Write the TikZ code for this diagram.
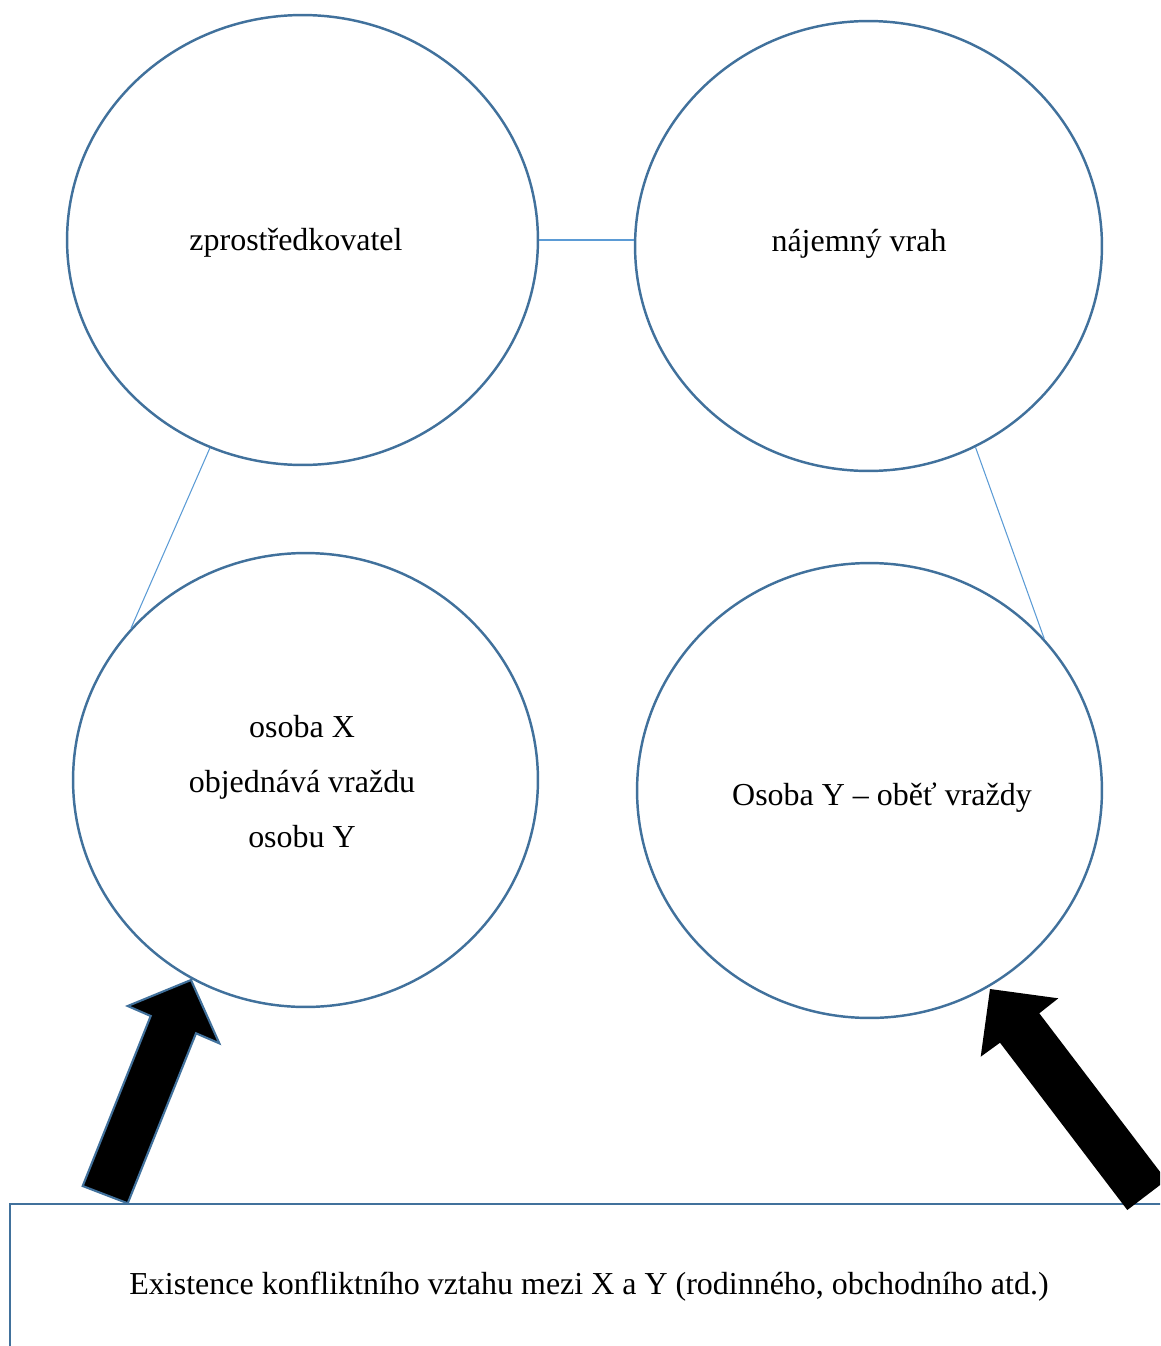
\documentclass[tikz,border=0pt]{standalone}
\usepackage{fontspec}
\setmainfont{Liberation Serif}
\usetikzlibrary{shapes.geometric}
\definecolor{ringblue}{HTML}{41719C}
\definecolor{linkblue}{HTML}{5B9BD5}
\begin{document}
\begin{tikzpicture}[x=0.02cm,y=-0.02cm,
  bubble/.style={draw=ringblue, line width=1.4pt, ellipse, inner sep=0pt},
  link/.style={draw=linkblue, line width=0.6pt},
  txt/.style={font=\fontsize{18.2}{31.3}\selectfont, inner sep=0pt, align=center},
  blockarrow/.style={fill=black, draw=ringblue, line width=1.2pt, line join=miter}]
\useasboundingbox (0,0) rectangle (1160,1346);
\clip (0,0) rectangle (1160,1346);
% ellipses
\node[bubble, minimum width=9.42cm, minimum height=9.0cm] (E1) at (302.5,240) {};
\node[bubble, minimum width=9.34cm, minimum height=9.0cm] (E2) at (868.5,246) {};
\node[bubble, minimum width=9.30cm, minimum height=9.08cm] (E3) at (305.5,780) {};
\node[bubble, minimum width=9.30cm, minimum height=9.10cm] (E4) at (869.5,790.5) {};
% texts
\node[txt] (t1) at (296,243) {zprostředkovatel};
\node[txt] (t2) at (859,244) {nájemný vrah};
\node[txt] (t3) at (302,782) {osoba X\\objednává vraždu\\osobu Y};
\node[txt] (t4) at (882,798) {Osoba Y – oběť vraždy};
% links
\draw[link] (E1.-0.5) -- (E1.-0.5 -| E2.west);
\draw[link] (E1.246.6) -- (E3.139.3);
\draw[link] (E2.298.8) -- (E4.41.3);
% bottom box
\node[draw=ringblue, line width=1.4pt, rectangle, inner sep=0pt, minimum width=23.4cm, minimum height=3.4cm, anchor=north west] (B) at (9,1203) {};
\node[txt] (tb) at (589,1287) {Existence konfliktního vztahu mezi X a Y (rodinného, obchodního atd.)};
% block arrows
\draw[blockarrow] (191,980) -- (219.3,1043.3) -- (196,1033.3) -- (127.7,1203.3) -- (82.7,1186) -- (150.7,1016) -- (127.7,1006) -- cycle;
\fill[black] (990,989) -- (1058.3,998.3) -- (1039.3,1013.3) -- (1166.4,1180.2) -- (1127.3,1210) -- (1000,1042.7) -- (980.7,1056.7) -- cycle;
\end{tikzpicture}
\end{document}
